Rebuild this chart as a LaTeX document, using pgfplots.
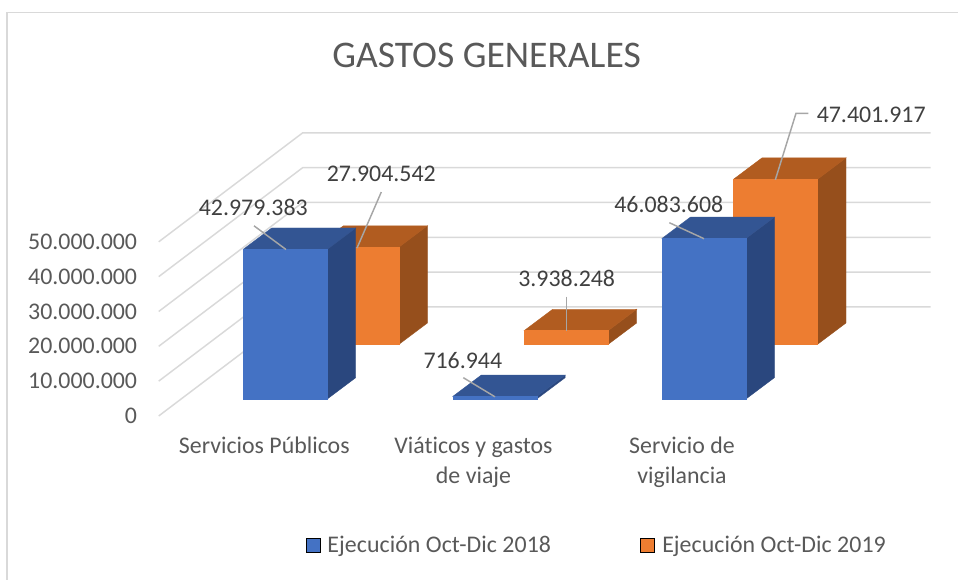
\documentclass[border=0pt]{standalone}
\usepackage{pgfplots}
\pgfplotsset{compat=1.18}
\usepackage{fontspec}
\setmainfont{Carlito}[Ligatures=NoCommon]
\newfontfamily\legfont[LetterSpace=0.25,Ligatures=NoCommon]{Carlito}
\definecolor{bfront}{HTML}{4472C4}
\definecolor{btop}{HTML}{335593}
\definecolor{bside}{HTML}{2A477E}
\definecolor{ofront}{HTML}{ED7D31}
\definecolor{otop}{HTML}{B15C20}
\definecolor{oside}{HTML}{964F1C}
\definecolor{gridc}{HTML}{D9D9D9}
\definecolor{axtxt}{HTML}{595959}
\definecolor{lbltxt}{HTML}{404040}
\definecolor{leader}{HTML}{A6A6A6}
% y values are in millions; x in picture pixels. 1 unit of y = 3.483 px
\newcommand\drawbar[6]{% x0, base, value, front, top, side
  \pgfmathsetmacro\xa{#1}\pgfmathsetmacro\xb{#1+84}
  \pgfmathsetmacro\xc{#1+84+28.4}\pgfmathsetmacro\xd{#1+28.4}
  \pgfmathsetmacro\ya{#2}\pgfmathsetmacro\yb{#2+#3}
  \pgfmathsetmacro\yc{#2+6.115}\pgfmathsetmacro\yd{#2+#3+6.115}
  \addplot[forget plot,draw=#6,line width=0.3pt,fill=#6] coordinates {(\xb,\ya)(\xc,\yc)(\xc,\yd)(\xb,\yb)} -- cycle;
  \addplot[forget plot,draw=#5,line width=0.3pt,fill=#5] coordinates {(\xa,\yb)(\xb,\yb)(\xc,\yd)(\xd,\yd)} -- cycle;
  \addplot[forget plot,draw=#4,line width=0.3pt,fill=#4] coordinates {(\xa,\ya)(\xb,\ya)(\xb,\yb)(\xa,\yb)} -- cycle;
}
\newcommand\gridl[1]{% value in millions: front end, back corner, right end
  \pgfmathsetmacro\yf{#1}\pgfmathsetmacro\yk{#1+31.3}
  \addplot[forget plot,gridc,line width=1.1pt] coordinates {(158.7,\yf)(302.7,\yk)(930.7,\yk)};
}
\newcommand\leaderl[1]{\addplot[forget plot,leader,line width=1.1pt] coordinates {#1};}
\begin{document}
\begin{tikzpicture}
\begin{axis}[
  scale only axis, width=718.5pt, height=435pt,
  xmin=0, xmax=958, ymin=-47.09, ymax=119.44,
  axis line style={draw=none}, major tick length=0pt, tick style={draw=none},
  clip=true,
  ytick={0,10,20,30,40,50},
  yticklabels={0,10.000.000,20.000.000,30.000.000,40.000.000,50.000.000},
  tick label style={text=axtxt,inner sep=0pt},
  yticklabel style={font=\fontsize{17.9}{21}\selectfont,anchor=east,xshift=103pt},
  xtick={264.3,473.5,682},
  xticklabels={Servicios Públicos,{Viáticos y gastos\\de viaje},{Servicio de\\vigilancia}},
  xticklabel style={font=\fontsize{17.9}{22.5}\selectfont,align=center,anchor=north,yshift=107.5pt},
  title={GASTOS GENERALES},
  title style={at={(0.508,0.891)},anchor=center,text=axtxt,font=\fontsize{28.2}{31}\selectfont,inner sep=0pt},
  legend columns=2,
  legend style={draw=none,fill=none,at={(0.319,0.0605)},anchor=west,inner sep=0pt,outer sep=0pt,
    font=\legfont\fontsize{17.9}{21}\selectfont,text=axtxt,
    /tikz/every even column/.append style={column sep=65pt}},
  legend cell align=left,
  legend image code/.code={\fill[#1] (0pt,-5.25pt) rectangle (10.5pt,5.25pt); \path (14pt,0pt);},
]
% chart frame
\addplot[forget plot,gridc,line width=1.1pt] coordinates {(7,-47.09)(7,115.9)(958,115.9)};
% walls
\gridl{0}\gridl{10}\gridl{20}\gridl{30}\gridl{40}\gridl{50}
% 2019 series, standing behind
\drawbar{315.0}{20.59}{27.904542}{ofront}{otop}{oside}
\drawbar{524.3}{20.59}{3.938248}{ofront}{otop}{oside}
\drawbar{733.6}{20.59}{47.401917}{ofront}{otop}{oside}
% 2018 series, in front
\drawbar{243.3}{4.88}{42.979383}{bfront}{btop}{bside}
\drawbar{452.7}{4.88}{0.716944}{bfront}{btop}{bside}
\drawbar{662.0}{4.88}{46.083608}{bfront}{btop}{bside}
% leader lines
\leaderl{(254,54.6)(286,47.8)}
\leaderl{(381.3,64.3)(357,48.2)}
\leaderl{(463.3,11.0)(495,5.5)}
\leaderl{(566.3,34.3)(566.3,24.4)}
\leaderl{(669.3,55.5)(704,50.9)}
\leaderl{(808.3,86.9)(796,86.9)(775.3,67.8)}
% data labels
\node[text=lbltxt,font=\fontsize{17.9}{21}\selectfont,inner sep=0pt] at (axis cs:253.3,59.8) {42.979.383};
\node[text=lbltxt,font=\fontsize{17.9}{21}\selectfont,inner sep=0pt] at (axis cs:381.3,69.4) {27.904.542};
\node[text=lbltxt,font=\fontsize{17.9}{21}\selectfont,inner sep=0pt] at (axis cs:462.8,15.9) {716.944};
\node[text=lbltxt,font=\fontsize{17.9}{21}\selectfont,inner sep=0pt] at (axis cs:566.7,39.5) {3.938.248};
\node[text=lbltxt,font=\fontsize{17.9}{21}\selectfont,inner sep=0pt] at (axis cs:668.8,60.8) {46.083.608};
\node[text=lbltxt,font=\fontsize{17.9}{21}\selectfont,inner sep=0pt] at (axis cs:871.2,86.6) {47.401.917};
% legend
\addlegendimage{fill=bfront}
\addlegendentry{Ejecución Oct-Dic 2018}
\addlegendimage{fill=ofront}
\addlegendentry{Ejecución Oct-Dic 2019}
\end{axis}
\end{tikzpicture}
\end{document}
